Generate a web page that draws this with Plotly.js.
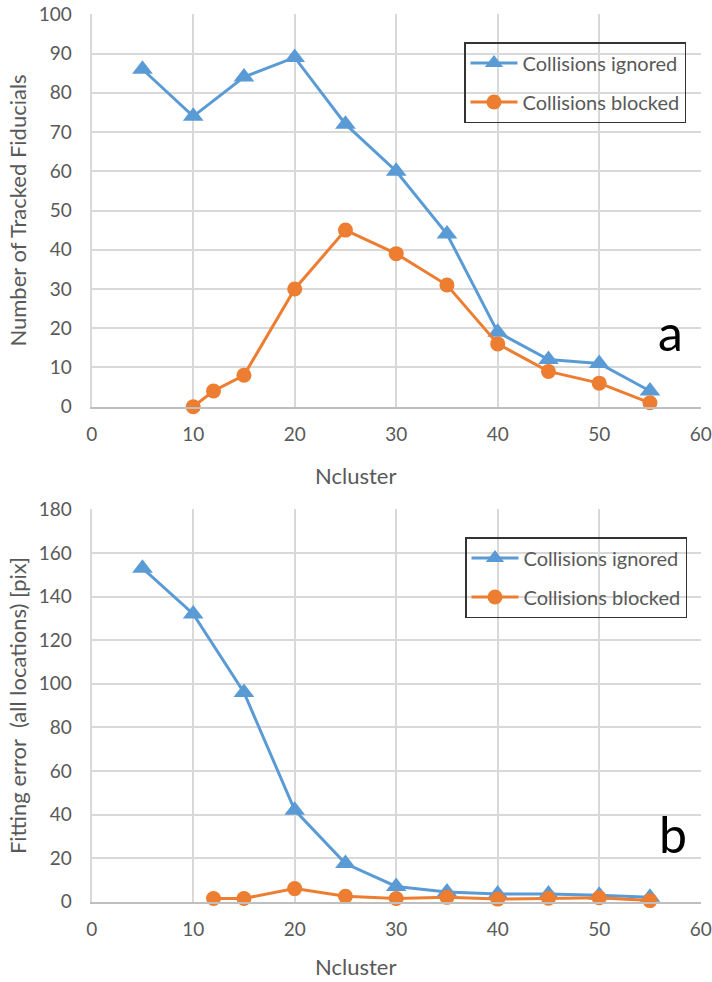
<!DOCTYPE html>
<html><head><meta charset="utf-8">
<script src="https://cdn.plot.ly/plotly-3.0.1.min.js"></script>
<style>html,body{margin:0;padding:0;background:#fff}#chart{width:712px;height:982px}</style>
</head><body><div id="chart"></div>
<script>
// Panel a: Number of tracked fiducials
const aIgnoredX = [5, 10, 15, 20, 25, 30, 35, 40, 45, 50, 55];
const aIgnoredY = [86, 74, 84, 89, 72, 60, 44, 19, 12, 11, 4];
const aBlockedX = [10, 12, 15, 20, 25, 30, 35, 40, 45, 50, 55];
const aBlockedY = [0, 4, 8, 30, 45, 39, 31, 16, 9, 6, 1];
// Panel b: Fitting error
const bIgnoredX = [5, 10, 15, 20, 25, 30, 35, 40, 45, 50, 55];
const bIgnoredY = [153, 132, 96, 42, 17.5, 7, 4.5, 3.5, 3.5, 3, 2];
const bBlockedX = [12, 15, 20, 25, 30, 35, 40, 45, 50, 55];
const bBlockedY = [1.5, 1.5, 6, 2.5, 1.5, 2, 1.2, 1.6, 1.8, 0.5];
const seriesNames = ["Collisions ignored", "Collisions blocked"];
const xTitle = "Ncluster";
const yTitleA = "Number of Tracked Fiducials";
const yTitleB = "Fitting error\u00a0 (all locations) [pix]";
const panelLabels = ["a", "b"];

const BLUE = "#5B9BD5", ORANGE = "#ED7D31";
const FONT = "Lato, 'Open Sans', sans-serif";
const GRAY = "#595959";

function tr(x, y, name, color, sym, size, xa, ya, leg, grp) {
  return {
    x: x, y: y, name: name, type: "scatter", mode: "lines+markers",
    xaxis: xa, yaxis: ya, legend: leg, legendgroup: grp,
    line: {color: color, width: 3},
    marker: {color: color, symbol: sym, size: size},
    cliponaxis: false
  };
}

const data = [
  tr(aIgnoredX, aIgnoredY, seriesNames[0], BLUE, "triangle-up", 18, "x", "y", "legend", "g1"),
  tr(aBlockedX, aBlockedY, seriesNames[1], ORANGE, "circle", 15, "x", "y", "legend", "g2"),
  tr(bIgnoredX, bIgnoredY, seriesNames[0], BLUE, "triangle-up", 18, "x2", "y2", "legend2", "g3"),
  tr(bBlockedX, bBlockedY, seriesNames[1], ORANGE, "circle", 15, "x2", "y2", "legend2", "g4")
];

const xd = [91.7/712, 700.7/712];
function xax(anchor) {
  return {
    domain: xd, anchor: anchor, range: [0, 60], dtick: 10, tick0: 0,
    showgrid: true, gridcolor: "#d9d9d9", gridwidth: 2,
    zeroline: false, showline: true, linecolor: "#bfbfbf", linewidth: 2, mirror: false,
    ticks: "", ticklabelstandoff: 9,
    tickfont: {family: FONT, size: 19, color: GRAY}
  };
}
function yax(anchor, dom, rng, dt, title) {
  return {
    domain: dom, anchor: anchor, range: rng, dtick: dt, tick0: 0,
    showgrid: true, gridcolor: "#d9d9d9", gridwidth: 2,
    zeroline: false, showline: true, linecolor: "#d9d9d9", linewidth: 2,
    ticks: "", ticklabelstandoff: 14,
    tickfont: {family: FONT, size: 19, color: GRAY},
    title: {text: title, font: {family: FONT, size: 22, color: GRAY}, standoff: 6}
  };
}

const legendBase = {
  xref: "paper", yref: "paper", xanchor: "left", yanchor: "top",
  bordercolor: "#333", borderwidth: 1.5, bgcolor: "rgba(255,255,255,0)",
  font: {family: FONT, size: 20, color: GRAY},
  traceorder: "grouped", tracegroupgap: 10, itemwidth: 47
};

const layout = {
  width: 712, height: 982,
  margin: {l: 0, r: 0, t: 0, b: 0},
  paper_bgcolor: "#fff", plot_bgcolor: "#fff",
  showlegend: true,
  xaxis: xax("y"),
  yaxis: yax("x", [1 - 406.7/982, 1 - 14.3/982], [0, 100], 10, yTitleA),
  xaxis2: xax("y2"),
  yaxis2: yax("x2", [1 - 901.7/982, 1 - 509.3/982], [0, 180], 20, yTitleB),
  legend: Object.assign({}, legendBase, {x: 464/712, y: 1 - 42/982}),
  legend2: Object.assign({}, legendBase, {x: 465/712, y: 1 - 537/982}),
  annotations: [
    {text: xTitle, xref: "paper", yref: "paper", x: 355/712, y: 1 - 476/982, showarrow: false,
     font: {family: FONT, size: 22, color: GRAY}, xanchor: "center", yanchor: "middle"},
    {text: xTitle, xref: "paper", yref: "paper", x: 355/712, y: 1 - 966/982, showarrow: false,
     font: {family: FONT, size: 22, color: GRAY}, xanchor: "center", yanchor: "middle"},
    {text: panelLabels[0], xref: "paper", yref: "paper", x: 670/712, y: 1 - 332/982, showarrow: false,
     font: {family: FONT, size: 50, color: "#000"}, xanchor: "center", yanchor: "middle"},
    {text: panelLabels[1], xref: "paper", yref: "paper", x: 673/712, y: 1 - 834/982, showarrow: false,
     font: {family: FONT, size: 50, color: "#000"}, xanchor: "center", yanchor: "middle"}
  ]
};

Plotly.newPlot("chart", data, layout, {staticPlot: true, displayModeBar: false});
</script></body></html>
